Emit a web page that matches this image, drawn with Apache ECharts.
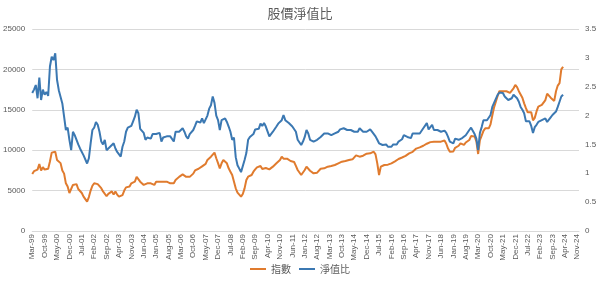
<!DOCTYPE html>
<html>
<head>
<meta charset="utf-8">
<script src="https://cdn.jsdelivr.net/npm/echarts@6/dist/echarts.min.js"></script>
<style>html,body{margin:0;padding:0;background:#fff;}#c{width:600px;height:282px;}</style>
</head>
<body>
<div id="c"></div>
<script>
// Monthly categories Mar-99 .. Dec-24 (tick labels)
const monthNames = ['Jan','Feb','Mar','Apr','May','Jun','Jul','Aug','Sep','Oct','Nov','Dec'];
const startYear = 1999, startMonth = 2, categoryCount = 310;
const categories = [];
for (let i = 0; i < categoryCount; i++) {
  const mi = startMonth + i;
  const y = startYear + Math.floor(mi / 12);
  categories.push(monthNames[mi % 12] + '-' + String(y % 100).padStart(2, '0'));
}

const seriesNames = ['指數', '淨值比'];

// 指數 (left axis), monthly from Mar-99
const indexValues = [
  7050,7400,7500,7600,8300,7500,7900,7600,7700,7700,8600,
  9700,9500,9800,8800,8600,8400,7500,7100,5900,5500,
  4700,4900,5700,5900,5800,5200,5000,4700,4250,4100,
  3630,4200,5000,5600,5900,6100,5800,5700,5300,4900,
  5000,4300,4600,4500,4900,4500,4900,4500,4250,4250,
  4450,5000,5400,5600,5500,5900,5800,6100,6700,6500,
  6100,5900,5700,5500,5900,5700,5900,5900,5700,6100,
  5900,6100,5900,6100,6300,6100,6100,5900,6100,5900,
  6300,6500,6700,6700,7000,6800,6700,6500,6700,6900,
  7100,7500,7700,7700,7900,8000,8000,8300,8800,9000,
  9200,9450,9700,9000,8400,7750,
  8375,8787,8787,8375,
  7756,7343,6930,6930,5280,4750,4500,4249,4580,5280,
  6312,6724,6930,6930,7343,7630,7880,7880,8050,7680,
  7880,7800,7962,7630,7756,7962,8168,8375,8580,8787,
  9199,8950,8870,8950,8787,8660,8450,8540,8050,7550,
  7343,6930,7137,7550,7962,7756,7460,7260,7137,7137,
  7220,7460,7700,7756,7756,7840,7962,8000,8050,8130,
  8168,8290,8375,8540,8580,8580,8660,8750,8787,8787,
  8870,8990,9360,9199,9199,9240,9320,9400,9570,9611,
  9611,9690,9817,9480,8375,6930,7962,8168,8168,8330,
  8210,8375,8375,8580,8620,8787,8910,9110,
  9100,9199,
  9300,9405,9611,9611,9800,10024,10200,10400,10350,10450,
  10550,10643,10800,10650,11000,10850,11055,10950,11055,10950,
  11055,11055,11200,10800,10200,9817,9950,9850,10300,10500,
  10550,10849,10750,10650,10950,11055,11262,11750,11800,11700,
  11100,9530,11262,11800,12400,12706,12500,12706,13200,14300,
  15300,16000,16700,17300,17400,17300,17400,17300,17100,17100,
  17243,17656,18069,17800,17300,17400,16500,15800,15200,14700,
  14900,14700,13700,14000,14800,15400,15200,15600,15750,16200,
  17000,16800,16500,16300,16100,17300,18000,18300,20000,20337
];

// 淨值比 (right axis), monthly from Mar-99
const pbValues = [
  2.39,2.45,2.53,2.30,2.66,2.27,2.45,2.36,2.41,2.34,2.85,
  3.02,2.96,3.08,2.62,2.44,2.41,2.21,1.98,1.75,1.79,
  1.58,1.40,1.72,1.66,1.68,1.50,1.43,1.40,1.31,1.29,
  1.17,1.26,1.52,1.75,1.79,1.89,1.84,1.72,1.55,1.50,
  1.58,1.40,1.43,1.46,1.43,1.52,1.43,1.37,1.35,1.29,
  1.46,1.55,1.72,1.79,1.80,1.82,1.90,1.98,2.10,2.04,
  1.77,1.75,1.70,1.58,1.62,1.64,1.60,1.68,1.66,1.68,
  1.70,1.70,1.55,1.62,1.64,1.64,1.66,1.64,1.66,1.55,
  1.72,1.72,1.72,1.72,1.78,1.72,1.64,1.60,1.68,1.70,
  1.75,1.82,1.90,1.92,1.88,1.95,1.87,1.90,2.00,2.12,
  2.18,2.33,2.22,2.00,1.92,1.75,
  1.92,1.95,1.95,1.89,
  1.81,1.72,1.58,1.62,1.28,1.14,1.08,1.02,1.05,1.23,
  1.35,1.58,1.63,1.60,1.68,1.76,1.79,1.77,1.86,1.82,
  1.87,1.81,1.81,1.64,1.63,1.72,1.75,1.81,1.86,1.84,
  1.92,2.01,1.92,1.89,1.87,1.86,1.81,1.79,1.72,1.58,
  1.61,1.49,1.55,1.63,1.75,1.69,1.58,1.55,1.55,1.55,
  1.58,1.55,1.63,1.66,1.69,1.66,1.69,1.69,1.66,1.69,
  1.69,1.69,1.72,1.76,1.76,1.78,1.75,1.75,1.73,1.75,
  1.75,1.72,1.75,1.72,1.78,1.75,1.72,1.75,1.72,1.74,
  1.76,1.72,1.69,1.64,1.58,1.52,1.55,1.49,1.49,1.50,
  1.46,1.48,1.46,1.50,1.48,1.50,1.55,1.58,
  1.59,1.66,
  1.63,1.63,1.66,1.61,1.69,1.66,1.69,1.66,1.69,1.72,
  1.78,1.80,1.87,1.76,1.78,1.84,1.75,1.72,1.75,1.78,
  1.72,1.75,1.74,1.70,1.63,1.55,1.57,1.52,1.60,1.63,
  1.58,1.61,1.61,1.63,1.66,1.69,1.75,1.79,1.78,1.68,
  1.60,1.40,1.70,1.80,1.92,1.92,1.92,1.92,2.01,2.15,
  2.22,2.29,2.36,2.40,2.37,2.39,2.33,2.30,2.27,2.27,
  2.30,2.36,2.33,2.30,2.24,2.15,2.10,2.04,1.90,1.87,
  1.90,1.82,1.70,1.80,1.84,1.89,1.89,1.92,1.92,1.95,
  1.89,1.92,1.97,2.01,1.98,2.07,2.15,2.24,2.33,2.36
];

const leftTicks = {min: 0, max: 25000, interval: 5000};
const rightTicks = {min: 0, max: 3.5, interval: 0.5};

const txt = '#595959';
const grid = '#D9D9D9';
const chart = echarts.init(document.getElementById('c'), null, {renderer: 'canvas'});
chart.setOption({
  animation: false,
  backgroundColor: '#fff',
  title: {
    text: '股價淨值比', left: 'center', top: 2,
    textStyle: {fontFamily: '"Noto Sans CJK TC"', fontSize: 13, fontWeight: 'normal', color: txt}
  },
  legend: {
    bottom: 3, left: 'center', icon: 'rect', itemWidth: 16, itemHeight: 2, itemGap: 8,
    textStyle: {fontFamily: '"Noto Sans CJK TC"', fontSize: 10, color: txt},
    data: seriesNames
  },
  grid: {left: 30, right: 21, top: 29, bottom: 51, containLabel: false},
  xAxis: {
    type: 'category', data: categories, boundaryGap: false,
    axisLine: {show: true, lineStyle: {color: grid}},
    axisTick: {show: false},
    axisLabel: {interval: 6, rotate: 90, fontSize: 8, color: txt, margin: 3, fontFamily: 'Liberation Sans'},
    splitLine: {show: false}
  },
  yAxis: [
    {
      type: 'value', min: leftTicks.min, max: leftTicks.max, interval: leftTicks.interval,
      axisLine: {show: false}, axisTick: {show: false},
      axisLabel: {fontSize: 8, color: txt, margin: 7, fontFamily: 'Liberation Sans',
        formatter: v => String(v)},
      splitLine: {lineStyle: {color: grid, width: 1}}
    },
    {
      type: 'value', min: rightTicks.min, max: rightTicks.max, interval: rightTicks.interval,
      axisLine: {show: false}, axisTick: {show: false},
      axisLabel: {fontSize: 8, color: txt, margin: 6, fontFamily: 'Liberation Sans',
        formatter: v => String(v)},
      splitLine: {show: false}
    }
  ],
  series: [
    {
      name: seriesNames[0], type: 'line', yAxisIndex: 0, data: indexValues,
      showSymbol: false, symbol: 'none', color: '#E07B2E',
      lineStyle: {width: 2, color: '#E07B2E'}
    },
    {
      name: seriesNames[1], type: 'line', yAxisIndex: 1, data: pbValues,
      showSymbol: false, symbol: 'none', color: '#3B78B2',
      lineStyle: {width: 2, color: '#3B78B2'}
    }
  ]
});
</script>
</body>
</html>
